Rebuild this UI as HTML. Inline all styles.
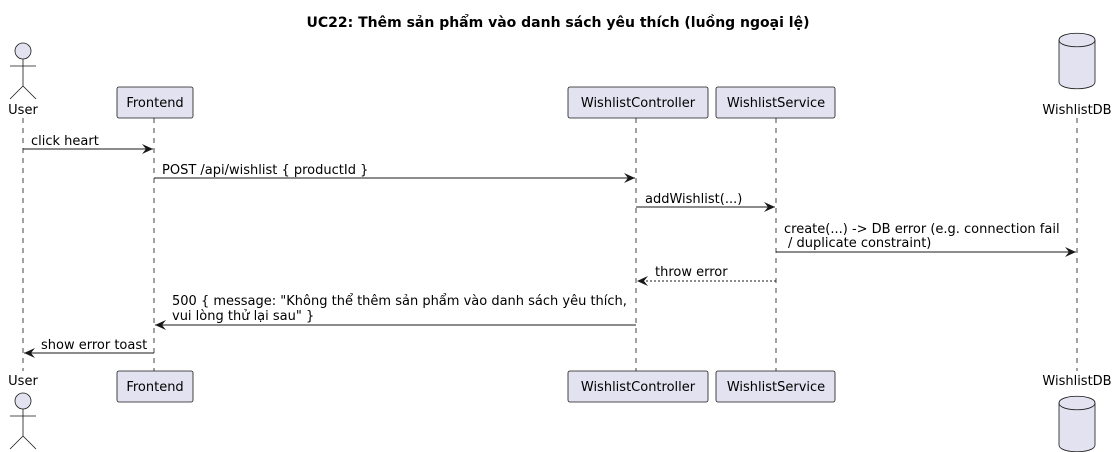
<!DOCTYPE html>
<html><head><meta charset="utf-8"><style>
html,body{margin:0;padding:0;background:#fff;}
svg{display:block;font-family:"DejaVu Sans","Liberation Sans",sans-serif;}
</style></head><body>
<svg width="1117" height="452" viewBox="0 0 1117 452" xmlns="http://www.w3.org/2000/svg">
<defs>
<marker id="a" markerWidth="12" markerHeight="10" refX="11" refY="5" orient="auto" markerUnits="userSpaceOnUse">
<path d="M0,0 L11,5 L0,10 L4,5 Z" fill="#181818"/>
</marker>
</defs>
<text x="558" y="27" text-anchor="middle" font-size="14" font-weight="bold" fill="#000">UC22: Thêm sản phẩm vào danh sách yêu thích (luồng ngoại lệ)</text>
<g stroke="#181818" stroke-width="0.8" stroke-dasharray="5,5">
<line x1="23" y1="118" x2="23" y2="371"/>
<line x1="154" y1="118" x2="154" y2="371"/>
<line x1="636" y1="118" x2="636" y2="371"/>
<line x1="776" y1="118" x2="776" y2="371"/>
<line x1="1077" y1="118" x2="1077" y2="371"/>
</g>
<g fill="#e2e2f0" stroke="#181818" stroke-width="0.8">
<circle cx="23" cy="51" r="8"/>
<circle cx="23" cy="401" r="8"/>
<rect x="117" y="87" width="76" height="31" rx="2"/>
<rect x="568" y="87" width="140" height="31" rx="2"/>
<rect x="716" y="87" width="119" height="31" rx="2"/>
<rect x="117" y="371" width="76" height="31" rx="2"/>
<rect x="568" y="371" width="140" height="31" rx="2"/>
<rect x="716" y="371" width="119" height="31" rx="2"/>
<path d="M1059,40 C1059,31 1095,31 1095,40 L1095,82 C1095,91 1059,91 1059,82 Z"/>
<path d="M1059,40 C1059,49 1095,49 1095,40" fill="none"/>
<path d="M1059,403 C1059,394 1095,394 1095,403 L1095,445 C1095,454 1059,454 1059,445 Z"/>
<path d="M1059,403 C1059,412 1095,412 1095,403" fill="none"/>
</g>
<g stroke="#181818" stroke-width="0.8" fill="none">
<path d="M23,59 V86 M10,66 H36 M23,86 L10,99 M23,86 L36,99"/>
<path d="M23,409 V436 M10,416 H36 M23,436 L10,449 M23,436 L36,449"/>
</g>
<g font-size="13" fill="#000">
<text x="23" y="114" text-anchor="middle">User</text>
<text x="23" y="385" text-anchor="middle">User</text>
<text x="155" y="107" text-anchor="middle">Frontend</text>
<text x="638" y="107" text-anchor="middle">WishlistController</text>
<text x="776" y="107" text-anchor="middle">WishlistService</text>
<text x="155" y="391" text-anchor="middle">Frontend</text>
<text x="638" y="391" text-anchor="middle">WishlistController</text>
<text x="776" y="391" text-anchor="middle">WishlistService</text>
<text x="1077" y="114" text-anchor="middle">WishlistDB</text>
<text x="1077" y="385" text-anchor="middle">WishlistDB</text>
</g>
<g stroke="#181818" stroke-width="1" marker-end="url(#a)">
<line x1="23" y1="149" x2="153" y2="149"/>
<line x1="154" y1="178" x2="635" y2="178"/>
<line x1="636" y1="207" x2="775" y2="207"/>
<line x1="776" y1="252" x2="1076" y2="252"/>
<line x1="776" y1="281" x2="637" y2="281" stroke-dasharray="2,2"/>
<line x1="636" y1="325" x2="155" y2="325"/>
<line x1="154" y1="353" x2="24" y2="353"/>
</g>
<g font-size="13" fill="#000">
<text x="31" y="145">click heart</text>
<text x="162" y="174">POST /api/wishlist { productId }</text>
<text x="645" y="203">addWishlist(...)</text>
<text x="784" y="233">create(...) -&gt; DB error (e.g. connection fail</text>
<text x="788" y="247">/ duplicate constraint)</text>
<text x="655" y="276">throw error</text>
<text x="172" y="305">500 { message: "Không thể thêm sản phẩm vào danh sách yêu thích,</text>
<text x="172" y="320">vui lòng thử lại sau" }</text>
<text x="41" y="349">show error toast</text>
</g>
</svg>
</body></html>
